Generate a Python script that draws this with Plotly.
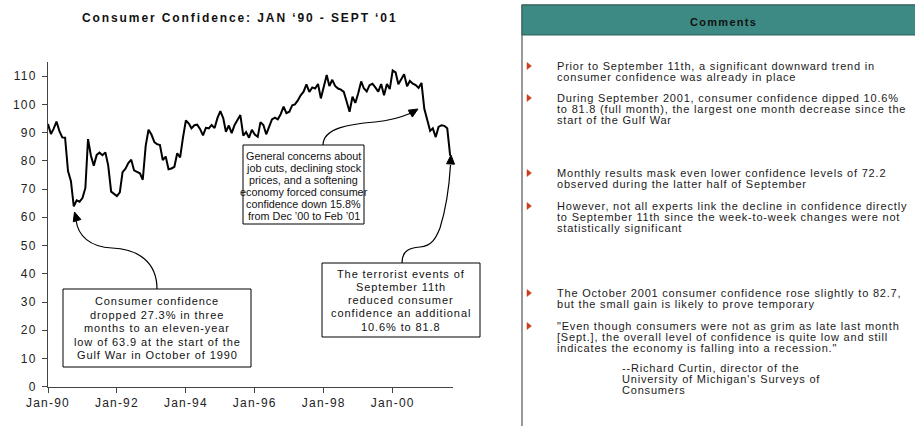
import plotly.graph_objects as go
import pandas as pd

W, H = 915, 426
FONT = "Arial, Liberation Sans, sans-serif"

# ---------------- data ----------------
start_month = "1990-01-01"
n_months = 141
confidence = [
    93.0, 89.5, 91.3, 93.9, 90.6, 88.3, 88.2, 76.4, 72.8, 63.9, 66.0, 65.5,   # 1990
    66.8, 70.4, 87.7, 81.8, 78.3, 82.1, 82.9, 82.0, 83.0, 78.3, 69.1, 68.2,   # 1991
    67.5, 68.8, 76.0, 77.2, 79.2, 80.4, 76.6, 76.1, 75.6, 73.3, 85.3, 91.0,   # 1992
    89.3, 86.6, 85.9, 85.6, 80.3, 81.5, 77.0, 77.3, 77.9, 82.7, 81.2, 88.2,   # 1993
    94.3, 93.2, 91.5, 92.6, 92.8, 91.2, 89.0, 91.7, 91.5, 92.7, 91.6, 95.1,   # 1994
    97.6, 95.1, 90.3, 92.5, 89.8, 92.7, 94.4, 96.2, 88.9, 90.2, 88.2, 91.0,   # 1995
    89.3, 88.5, 93.7, 92.7, 89.4, 92.4, 94.7, 95.3, 94.7, 96.5, 99.2, 96.9,   # 1996
    97.4, 99.7, 100.0, 101.4, 103.2, 104.5, 107.1, 104.4, 106.0, 105.6, 107.2, 102.1,  # 1997
    106.6, 110.4, 106.5, 108.7, 106.5, 105.6, 105.2, 104.4, 100.9, 97.4, 102.7, 100.5,  # 1998
    103.9, 108.1, 105.7, 104.6, 106.8, 107.3, 106.0, 104.5, 107.2, 103.2, 107.2, 105.4,  # 1999
    112.0, 111.3, 107.1, 109.2, 110.7, 106.4, 108.3, 107.3, 106.8, 105.8, 107.6, 98.4,  # 2000
    94.7, 90.6, 91.5, 88.4, 92.0, 92.6, 92.4, 91.5, 81.8,                     # 2001
]
months = pd.date_range(start_month, periods=n_months, freq="MS")

chart_title = "Consumer Confidence: JAN \u201890 - SEPT \u201801"
y_ticks = list(range(0, 111, 10))
x_tick_dates = ["1990-01-01", "1992-01-01", "1994-01-01", "1996-01-01", "1998-01-01", "2000-01-01"]
x_tick_labels = ["Jan-90", "Jan-92", "Jan-94", "Jan-96", "Jan-98", "Jan-00"]

box1_lines = ["Consumer confidence", "dropped 27.3% in three", "months to an eleven-year",
              "low of 63.9 at the start of the", "Gulf War in October of 1990"]
box2_lines = ["General concerns about", "job cuts, declining stock", "prices, and a softening",
              "economy forced consumer", "confidence down 15.8%", "from Dec \u201900 to Feb \u201901"]
box3_lines = ["The terrorist events of", "September 11th", "reduced consumer",
              "confidence an additional", "10.6% to 81.8"]

comments_title = "Comments"
comments = [
    ["Prior to September 11th, a significant downward trend in",
     "consumer confidence was already in place"],
    ["During September 2001, consumer confidence dipped 10.6%",
     "to 81.8 (full month), the largest one month decrease since the",
     "start of the Gulf War"],
    ["Monthly results mask even lower confidence levels of 72.2",
     "observed during the latter half of September"],
    ["However, not all experts link the decline in confidence directly",
     "to September 11th since the week-to-week changes were not",
     "statistically significant"],
    ["The October 2001 consumer confidence rose slightly to 82.7,",
     "but the small gain is likely to prove temporary"],
    ["\"Even though consumers were not as grim as late last month",
     "[Sept.], the overall level of confidence is quite low and still",
     "indicates the economy is falling into a recession.\""],
]
attribution = ["--Richard Curtin, director of the",
               "University of Michigan's Surveys of",
               "Consumers"]


# ---------------- helpers (pixel -> paper) ----------------
def px(x):
    return x / W


def py(y):
    return 1 - y / H


def pt(x, y):
    return f"{px(x):.5f},{py(y):.5f}"


def spaced(t, ls):
    return f'<span style="letter-spacing:{ls}px">{t}</span>' if ls else t


fig = go.Figure()
fig.add_trace(go.Scatter(x=months, y=confidence, mode="lines",
                         line=dict(color="black", width=2), hoverinfo="x+y"))

shapes = []
annotations = []


def text_lines(lines, x, y0, dy, size, anchor="center", bold=False, color="#111", ls=0.9):
    for i, t in enumerate(lines):
        s = spaced(t, ls)
        annotations.append(dict(
            x=px(x), y=py(y0 + i * dy), xref="paper", yref="paper",
            text=f"<b>{s}</b>" if bold else s, showarrow=False,
            xanchor=anchor, yanchor="middle",
            font=dict(size=size, color=color, family=FONT)))


def rect(x0, y0, x1, y1, line="black", fill="white", width=1):
    shapes.append(dict(type="rect", xref="paper", yref="paper",
                       x0=px(x0), x1=px(x1), y0=py(y1), y1=py(y0),
                       line=dict(color=line, width=width), fillcolor=fill, layer="above"))


def curve(d):
    shapes.append(dict(type="path", xref="paper", yref="paper", path=d,
                       line=dict(color="black", width=1.2), layer="above"))


def arrowhead(tx, ty, dx, dy, length=9, half=4):
    n = (dx * dx + dy * dy) ** 0.5
    ux, uy = dx / n, dy / n
    bx, by = tx - ux * length, ty - uy * length
    p1 = (bx - uy * half, by + ux * half)
    p2 = (bx + uy * half, by - ux * half)
    d = f"M {pt(tx, ty)} L {pt(*p1)} L {pt(*p2)} Z"
    shapes.append(dict(type="path", xref="paper", yref="paper", path=d,
                       line=dict(color="black", width=1), fillcolor="black", layer="above"))


# ---- title ----
text_lines([chart_title], 240, 18, 0, 12, bold=True, color="#111", ls=1.9)

# ---- callout 1 ----
curve(f"M {pt(157, 289)} C {pt(157, 262)} {pt(138, 249)} {pt(112, 248)} "
      f"C {pt(90, 247)} {pt(78, 236)} {pt(76, 220)}")
arrowhead(74.5, 212, -0.3, -1)
rect(63, 289, 251, 367)
text_lines(box1_lines, 157, 301, 13.6, 11)

# ---- callout 2 ----
curve(f"M {pt(323, 145)} C {pt(323, 128)} {pt(350, 124)} {pt(375, 122)} "
      f"C {pt(395, 120)} {pt(404, 116)} {pt(411, 113)}")
arrowhead(418, 109, 1, -0.6)
rect(243, 145, 364, 224)
text_lines(box2_lines, 303.5, 156.5, 11.9, 10.8, ls=0)

# ---- callout 3 ----
curve(f"M {pt(402, 263)} C {pt(402, 250)} {pt(410, 248)} {pt(420, 247)} "
      f"C {pt(432, 246)} {pt(436, 238)} {pt(440, 228)} "
      f"C {pt(445, 212)} {pt(449, 190)} {pt(450.5, 165)}")
arrowhead(451, 155, 0.05, -1)
rect(322, 263, 480, 337)
text_lines(box3_lines, 401, 273.5, 13.3, 11)

# ---- comments panel ----
rect(522, 5, 930, 440, line="#777", fill="white", width=1.5)
rect(522, 5, 930, 35, line="#2f5f5b", fill="#3d8a84", width=1)
text_lines([comments_title], 723, 22, 0, 11, bold=True, color="#111", ls=1.3)

item_y = [66, 98, 173, 206, 293, 326]
for y0, lines in zip(item_y, comments):
    d = f"M {pt(527, y0 - 3.5)} L {pt(531.5, y0)} L {pt(527, y0 + 3.5)} Z"
    shapes.append(dict(type="path", xref="paper", yref="paper", path=d,
                       line=dict(color="#c8401c", width=0.5), fillcolor="#c8401c", layer="above"))
    text_lines(lines, 555, y0, 10.8, 11, anchor="left", color="#1a1a1a", ls=0.8)
text_lines(attribution, 620, 368, 10.8, 11, anchor="left", color="#1a1a1a", ls=0.8)

fig.update_layout(
    width=W, height=H,
    margin=dict(l=0, r=0, t=0, b=0, autoexpand=False),
    paper_bgcolor="white", plot_bgcolor="white",
    showlegend=False,
    font=dict(family=FONT, color="#222", size=12),
    xaxis=dict(domain=[px(48), px(453)], type="date", automargin=False,
               range=["1990-01-01", "2001-10-01"],
               tickvals=x_tick_dates,
               ticktext=[spaced(t, 1.2) for t in x_tick_labels],
               ticks="outside", ticklen=5, tickcolor="#444",
               showline=True, linecolor="#444", linewidth=1,
               showgrid=False, zeroline=False,
               tickfont=dict(size=12, color="#222", family=FONT)),
    yaxis=dict(domain=[py(386.7), py(62)], range=[0, 115], automargin=False,
               tickvals=y_ticks,
               ticktext=[spaced(str(v), 1.2) for v in y_ticks],
               ticks="outside", ticklen=5, tickcolor="#444",
               showline=True, linecolor="#444", linewidth=1,
               showgrid=False, zeroline=False,
               ticklabelstandoff=3,
               tickfont=dict(size=12, color="#222", family=FONT)),
    shapes=shapes,
    annotations=annotations,
)

fig.write_html("out.html", config={"displayModeBar": False},
               post_script="document.body.style.margin='0';document.body.style.overflow='hidden';")
